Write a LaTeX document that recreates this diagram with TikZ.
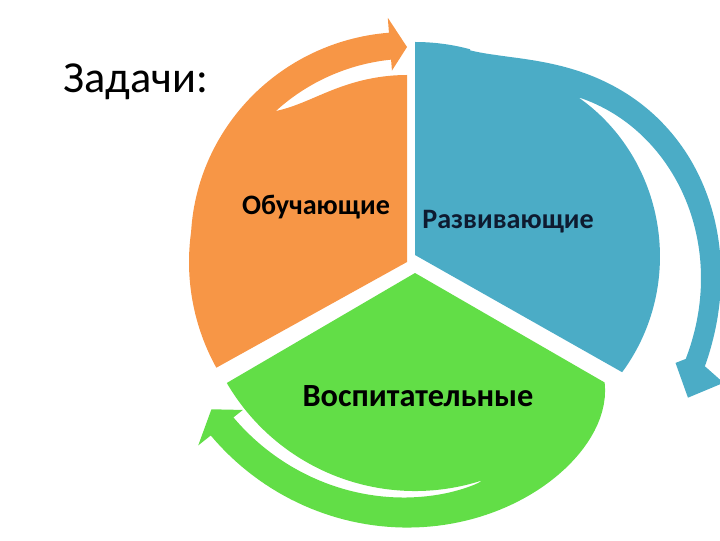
\documentclass[tikz,border=0pt]{standalone}
\usepackage{fontspec}
\setmainfont{Carlito}
\definecolor{segorange}{HTML}{F79646}
\definecolor{segblue}{HTML}{4BACC6}
\definecolor{seggreen}{HTML}{62DE47}
\definecolor{labelnavy}{HTML}{0E1B30}

\begin{document}
\begin{tikzpicture}[x=0.025cm, y=0.025cm, every node/.style={inner sep=0pt, anchor=base}, seg/.style={font=\bfseries\fontsize{20}{24}\selectfont}, title/.style={font=\fontsize{31.5}{36}\selectfont}]
    \useasboundingbox (0,0) rectangle (720,540);
    \clip (0,0) rectangle (720,540);
    \coordinate (o) at (407,278);
    \coordinate (b) at (415,285);
    \coordinate (g) at (415,267);

    % sector with its arrow, one outline each
    \fill[segorange, shift={(o)}] (0,0) -- (90:187)
        -- plot[domain=90:131, samples=40] (\x:{187+13*((\x-90)/41)^6})
        -- plot[domain=131:94.5, samples=40] (\x:{200+3*(131-\x)/36.5})
        -- (94.5:192) -- (90:215) -- (94.5:245) -- (94.5:229)
        -- plot[domain=94.5:172, samples=60] (\x:{230-12*((\x-94.5)/77.5)^2})
        arc[start angle=172, end angle=209, radius=218] -- cycle;

    \fill[segblue, shift={(b)}] (0,0) -- (90:213) arc[start angle=90, end angle=75, radius=213]
        -- plot[domain=75:-21, samples=90] (\x:{212+100*(1-exp(-(((75.01-\x)/96)/0.451)^1.8))})
        -- (-22.5:334) -- (-27.6:308) -- (-22.5:282) -- (-21:290)
        -- plot[domain=-21:44, samples=60] (\x:{227+63*(1-(1-(44-\x)/65.1)^2.2)})
        -- plot[domain=44:-2, samples=40] (\x:{245-18*((\x+2)/46)*((\x+2)/46)})
        -- plot[domain=-2:-29.5, samples=20] (\x:{245-7*((\x+2)/27.5)*((\x+2)/27.5)})
        -- cycle;

    \fill[seggreen, shift={(g)}] (0,0) -- (-30:219)
        -- plot[domain=30:141.5, samples=70] ({-\x}:{247+14*(\x-30)/111.5-28*exp(-(\x-30)/10.4)})
        -- (-141.5:277) -- (-146.2:245) -- (-141.5:220) -- (-141.5:232)
        -- plot[domain=141.5:72, samples=60] ({-\x}:{218+14*((\x-72)/69.5)^0.6})
        arc[start angle=-72, end angle=-149.7, radius=218] -- cycle;

    \node[title] (zadachi) at (136,447) {Задачи:};
    \node[seg] (obuch) at (316,325) {Обучающие};
    \node[seg, text=labelnavy] (razv) at (508,312) {Развивающие};
    \node[seg, font=\bfseries\fontsize{23}{28}\selectfont] (vosp) at (418,134) {Воспитательные};
\end{tikzpicture}
\end{document}
